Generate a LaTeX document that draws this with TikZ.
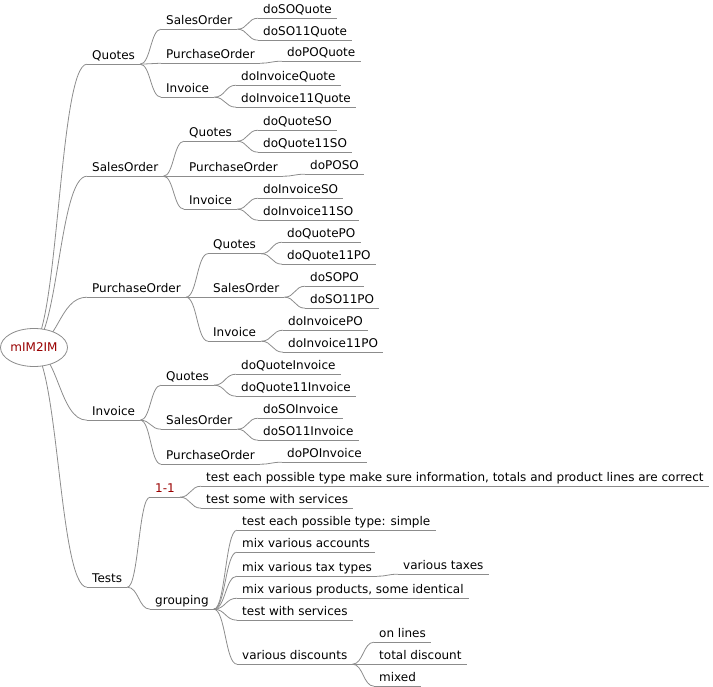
\documentclass[tikz,border=0pt]{standalone}
\usepackage{fontspec}
\setmainfont{DejaVu Sans}
\usetikzlibrary{shapes.geometric,calc,backgrounds}
\definecolor{edgegray}{HTML}{8C8C8C}
\definecolor{roottext}{HTML}{990000}
\begin{document}
\begin{tikzpicture}[x=1pt,y=-1pt,
  mm/.style={anchor=base west, xshift=-5pt, inner xsep=5pt, inner ysep=0pt,
    text depth=4.5pt, text height=9pt, font=\fontsize{12pt}{14pt}\selectfont},
  redtext/.style={text=roottext},
  ul/.style={draw=edgegray, line width=0.8pt},
  link/.style={draw=edgegray, line width=0.8pt,
    to path={let \p1=(\tikztostart), \p2=(\tikztotarget) in
      .. controls ({0.5*\x1+0.5*\x2},\y1) and ({0.5*\x1+0.5*\x2},\y2) .. (\tikztotarget)}},
  rootnode/.style={ellipse, draw=edgegray, fill=white, line width=0.8pt,
    minimum width=67pt, minimum height=38pt, inner sep=0pt, text=roottext,
    font=\fontsize{12pt}{14pt}\selectfont}
]
\useasboundingbox (0,0) rectangle (713,687);

% root
\node[rootnode] (root) at (34,347.5) {mIM2IM};

% level 1
\node[mm] (q) at (92,59.5) {Quotes};
\node[mm] (s) at (92,171.5) {SalesOrder};
\node[mm] (p) at (92,292.5) {PurchaseOrder};
\node[mm] (i) at (92,415.5) {Invoice};
\node[mm] (t) at (92,582.5) {Tests};

% Quotes branch
\node[mm] (qs) at (166,24.5) {SalesOrder};
\node[mm] (qs1) at (263,13.5) {doSOQuote};
\node[mm] (qs2) at (263,35.5) {doSO11Quote};
\node[mm] (qp) at (166,58.5) {PurchaseOrder};
\node[mm] (qp1) at (287,56.5) {doPOQuote};
\node[mm] (qi) at (166,92.5) {Invoice};
\node[mm] (qi1) at (241,80.5) {doInvoiceQuote};
\node[mm] (qi2) at (241,102.5) {doInvoice11Quote};

% SalesOrder branch
\node[mm] (sq) at (189,136.5) {Quotes};
\node[mm] (sq1) at (263,125.5) {doQuoteSO};
\node[mm] (sq2) at (263,147.5) {doQuote11SO};
\node[mm] (sp) at (189,171.5) {PurchaseOrder};
\node[mm] (sp1) at (310,169.5) {doPOSO};
\node[mm] (si) at (189,204.5) {Invoice};
\node[mm] (si1) at (263,193.5) {doInvoiceSO};
\node[mm] (si2) at (263,215.5) {doInvoice11SO};

% PurchaseOrder branch
\node[mm] (pq) at (213,249) {Quotes};
\node[mm] (pq1) at (287,237.5) {doQuotePO};
\node[mm] (pq2) at (287,259.5) {doQuote11PO};
\node[mm] (ps) at (213,292.5) {SalesOrder};
\node[mm] (ps1) at (310,281.5) {doSOPO};
\node[mm] (ps2) at (310,303.5) {doSO11PO};
\node[mm] (pi) at (213,336.5) {Invoice};
\node[mm] (pi1) at (288,325.5) {doInvoicePO};
\node[mm] (pi2) at (288,347.5) {doInvoice11PO};

% Invoice branch
\node[mm] (iq) at (166,380.5) {Quotes};
\node[mm] (iq1) at (241,369.5) {doQuoteInvoice};
\node[mm] (iq2) at (241,391.5) {doQuote11Invoice};
\node[mm] (is) at (166,424.5) {SalesOrder};
\node[mm] (is1) at (263,413.5) {doSOInvoice};
\node[mm] (is2) at (263,435.5) {doSO11Invoice};
\node[mm] (ip) at (166,459.5) {PurchaseOrder};
\node[mm] (ip1) at (287,457.5) {doPOInvoice};

% Tests branch
\node[mm, redtext] (t1) at (155,492.5) {1-1};
\node[mm] (t11) at (206,481.5) {test each possible type make sure information, totals and product lines are correct};
\node[mm] (t12) at (206,503.5) {test some with services};
\node[mm] (tg) at (155,604.5) {grouping};
\node[mm] (tg1) at (242,525.5) {test each possible type: simple};
\node[mm] (tg2) at (242,547.5) {mix various accounts};
\node[mm] (tg3) at (242,571.5) {mix various tax types};
\node[mm] (tg31) at (403,569.5) {various taxes};
\node[mm] (tg4) at (242,593.5) {mix various products, some identical};
\node[mm] (tg5) at (242,615.5) {test with services};
\node[mm] (tg6) at (242,659.5) {various discounts};
\node[mm] (tg61) at (379,637.5) {on lines};
\node[mm] (tg62) at (379,659.5) {total discount};
\node[mm] (tg63) at (379,681.5) {mixed};

% underlines
\foreach \n in {q,s,p,i,t,qs,qs1,qs2,qp,qp1,qi,qi1,qi2,sq,sq1,sq2,sp,sp1,si,si1,si2,
  pq,pq1,pq2,ps,ps1,ps2,pi,pi1,pi2,iq,iq1,iq2,is,is1,is2,ip,ip1,
  t1,t11,t12,tg,tg1,tg2,tg3,tg31,tg4,tg5,tg6,tg61,tg62,tg63}
  \draw[ul] (\n.south west) -- (\n.south east);

% connectors
\foreach \a/\b in {q/qs,q/qp,q/qi,qs/qs1,qs/qs2,qp/qp1,qi/qi1,qi/qi2,
  s/sq,s/sp,s/si,sq/sq1,sq/sq2,sp/sp1,si/si1,si/si2,
  p/pq,p/ps,p/pi,pq/pq1,pq/pq2,ps/ps1,ps/ps2,pi/pi1,pi/pi2,
  i/iq,i/is,i/ip,iq/iq1,iq/iq2,is/is1,is/is2,ip/ip1,
  t/t1,t/tg,t1/t11,t1/t12,tg/tg1,tg/tg2,tg/tg3,tg3/tg31,tg/tg4,tg/tg5,tg/tg6,
  tg6/tg61,tg6/tg62,tg6/tg63}
  \draw[link] (\a.south east) to (\b.south west);

\begin{pgfonlayer}{background}
\foreach \b in {q,s,p,i,t}
  \draw[link] ([xshift=-4pt]root.center) to (\b.south west);
\end{pgfonlayer}
\end{tikzpicture}
\end{document}
